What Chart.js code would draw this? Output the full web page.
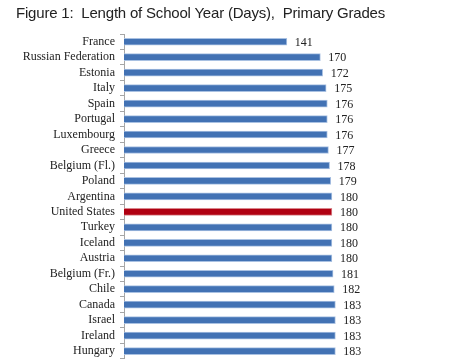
<!DOCTYPE html>
<html>
<head>
<meta charset="utf-8">
<script src="https://cdn.jsdelivr.net/npm/chart.js@4"></script>
<style>
  html, body { margin: 0; padding: 0; background: #fff; overflow: hidden; }
  #title {
    position: absolute; left: 16px; top: 4px;
    font: 15px "Liberation Sans", Arial, sans-serif; color: #222;
    letter-spacing: -0.2px;
    white-space: pre;
  }
  #wrap { position: absolute; left: 0; top: 0; width: 450px; height: 371px; }
</style>
</head>
<body>
<div id="wrap"><canvas id="chart"></canvas></div>
<div id="title">Figure 1:  Length of School Year (Days),  Primary Grades</div>
<script>
'use strict';

const countries = ['France', 'Russian Federation', 'Estonia', 'Italy', 'Spain', 'Portugal',
  'Luxembourg', 'Greece', 'Belgium (Fl.)', 'Poland', 'Argentina', 'United States', 'Turkey',
  'Iceland', 'Austria', 'Belgium (Fr.)', 'Chile', 'Canada', 'Israel', 'Ireland', 'Hungary'];
const days = [141, 170, 172, 175, 176, 176, 176, 177, 178, 179, 180, 180, 180, 180, 180, 181,
  182, 183, 183, 183, 183];
const highlight = 'United States';

const barColors = countries.map(c => c === highlight ? '#b00012' : '#4272b4');
const edgeColors = countries.map(c => c === highlight ? '#d9868c' : '#a9c1e2');

// plain value labels to the right of each bar
const valueLabels = {
  id: 'valueLabels',
  afterDatasetsDraw(chart) {
    const ctx = chart.ctx;
    const meta = chart.getDatasetMeta(0);
    ctx.save();
    ctx.font = '12px "Liberation Serif", "Times New Roman", serif';
    ctx.fillStyle = '#222';
    ctx.textAlign = 'left';
    ctx.textBaseline = 'middle';
    meta.data.forEach((bar, i) => {
      ctx.fillText(days[i], bar.x + 8, bar.y + 1);
    });
    ctx.restore();
  }
};

new Chart(document.getElementById('chart'), {
  type: 'bar',
  data: {
    labels: countries,
    datasets: [{
      data: days,
      backgroundColor: barColors,
      borderColor: edgeColors,
      borderWidth: 1,
      barThickness: 7
    }]
  },
  options: {
    indexAxis: 'y',
    responsive: true,
    maintainAspectRatio: false,
    animation: false,
    layout: { padding: { top: 34, bottom: 2, left: 0, right: 95 } },
    plugins: {
      legend: { display: false },
      tooltip: { enabled: false }
    },
    scales: {
      x: {
        display: false,
        min: 0,
        max: 200
      },
      y: {
        afterFit(scale) { scale.width = 124; },
        border: { display: true, color: '#a6a6a6', width: 1 },
        grid: {
          offset: true,
          drawOnChartArea: false,
          drawTicks: true,
          tickLength: 4,
          color: '#a6a6a6'
        },
        ticks: {
          autoSkip: false,
          padding: 5,
          color: '#222',
          font: { family: '"Liberation Serif", "Times New Roman", serif', size: 12 }
        }
      }
    }
  },
  plugins: [valueLabels]
});
</script>
</body>
</html>
